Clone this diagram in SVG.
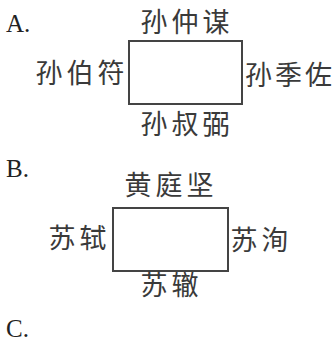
<svg xmlns="http://www.w3.org/2000/svg" width="334" height="342" viewBox="0 0 334 342">
<style>
.lbl{font-family:"Liberation Serif","DejaVu Serif",serif;font-size:25px;fill:#222}
.cn{font-family:"Noto Sans CJK SC","Noto Sans CJK TC",sans-serif;font-size:27px;fill:#3a3a3a;letter-spacing:4px}
.box{fill:#fff;stroke:#444;stroke-width:2}
</style>
<rect width="334" height="342" fill="#fff"/>
<g id="optA">
<text class="lbl" x="6" y="32">A.</text>
<g id="boxA"><rect class="box" x="129" y="41" width="113" height="63"/></g>
<g id="a-top"><text class="cn" x="140.5" y="32">孙仲谋</text></g>
<g id="a-left"><text class="cn" x="35.5" y="83">孙伯符</text></g>
<g id="a-right"><text class="cn" x="245" y="85" style="letter-spacing:3px">孙季佐</text></g>
<g id="a-bottom"><text class="cn" x="140.5" y="134">孙叔弼</text></g>
</g>
<g id="optB">
<text class="lbl" x="6" y="177">B.</text>
<g id="boxB"><rect class="box" x="113" y="208" width="115" height="63"/></g>
<g id="b-top"><text class="cn" x="124.5" y="195">黄庭坚</text></g>
<g id="b-left"><text class="cn" x="48.5" y="248">苏轼</text></g>
<g id="b-right"><text class="cn" x="230.5" y="250">苏洵</text></g>
<g id="b-bottom"><text class="cn" x="140.5" y="295">苏辙</text></g>
</g>
<g id="optC"><text class="lbl" x="6" y="337">C.</text></g>
<g id="connectors"/>
</svg>
